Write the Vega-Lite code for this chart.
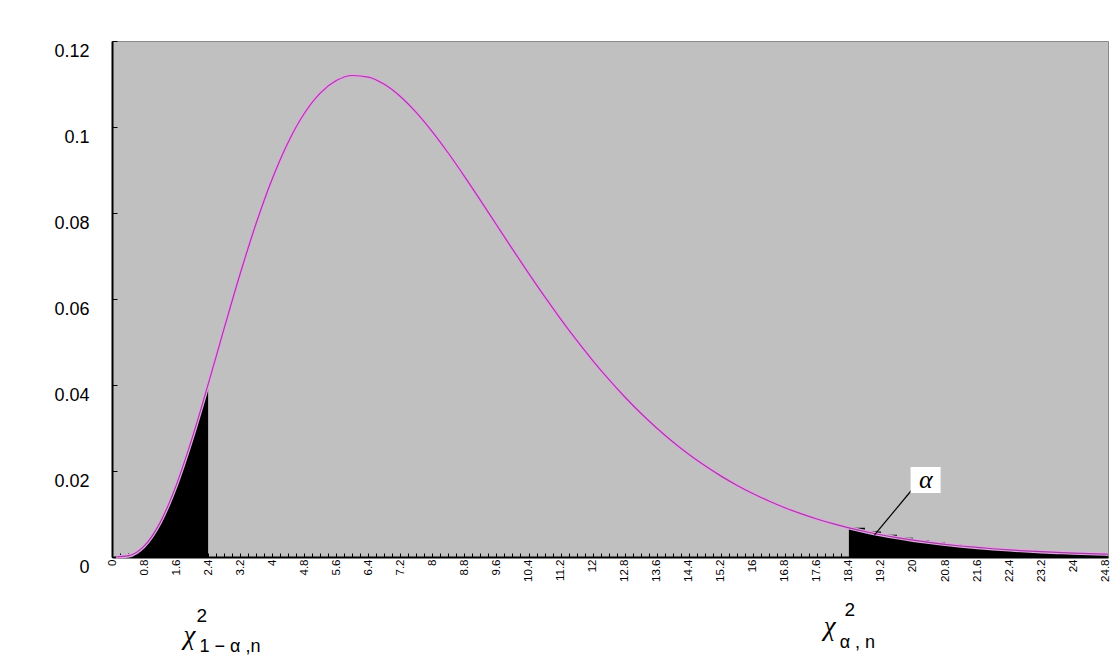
{
  "$schema": "https://vega.github.io/schema/vega-lite/v6.json",
  "width": 996,
  "height": 516,
  "autosize": {"type": "none"},
  "padding": {"left": 112, "top": 41, "right": 8, "bottom": 98},
  "background": "white",
  "config": {
    "view": {"fill": "#c0c0c0", "stroke": "#8a8a8a", "strokeWidth": 1},
    "font": "Liberation Sans"
  },
  "datasets": {
    "curve": [
      {"x": 0.1, "y": 0},
      {"x": 0.4, "y": 0.000242},
      {"x": 0.8, "y": 0.002518},
      {"x": 1.2, "y": 0.007999},
      {"x": 1.6, "y": 0.016607},
      {"x": 2.0, "y": 0.027632},
      {"x": 2.4, "y": 0.04013},
      {"x": 2.8, "y": 0.053152},
      {"x": 3.2, "y": 0.065865},
      {"x": 3.6, "y": 0.07761},
      {"x": 4.0, "y": 0.087912},
      {"x": 4.4, "y": 0.096472},
      {"x": 4.8, "y": 0.103141},
      {"x": 5.2, "y": 0.107892},
      {"x": 5.6, "y": 0.110792},
      {"x": 6.0, "y": 0.111974},
      {"x": 6.4, "y": 0.111615},
      {"x": 6.8, "y": 0.109916},
      {"x": 7.2, "y": 0.107094},
      {"x": 7.6, "y": 0.103351},
      {"x": 8.0, "y": 0.09889},
      {"x": 8.4, "y": 0.093892},
      {"x": 8.8, "y": 0.088534},
      {"x": 9.2, "y": 0.082948},
      {"x": 9.6, "y": 0.077268},
      {"x": 10.0, "y": 0.071594},
      {"x": 10.4, "y": 0.066012},
      {"x": 10.8, "y": 0.060591},
      {"x": 11.2, "y": 0.055382},
      {"x": 11.6, "y": 0.050423},
      {"x": 12.0, "y": 0.045742},
      {"x": 12.4, "y": 0.041356},
      {"x": 12.8, "y": 0.03727},
      {"x": 13.2, "y": 0.03349},
      {"x": 13.6, "y": 0.030009},
      {"x": 14.0, "y": 0.026818},
      {"x": 14.4, "y": 0.023907},
      {"x": 14.8, "y": 0.021263},
      {"x": 15.2, "y": 0.018868},
      {"x": 15.6, "y": 0.016709},
      {"x": 16.0, "y": 0.014766},
      {"x": 16.4, "y": 0.013025},
      {"x": 16.8, "y": 0.011469},
      {"x": 17.2, "y": 0.010081},
      {"x": 17.6, "y": 0.008846},
      {"x": 18.0, "y": 0.007751},
      {"x": 18.4, "y": 0.006781},
      {"x": 18.8, "y": 0.005924},
      {"x": 19.2, "y": 0.005168},
      {"x": 19.6, "y": 0.004503},
      {"x": 20.0, "y": 0.003918},
      {"x": 20.4, "y": 0.003405},
      {"x": 20.8, "y": 0.002956},
      {"x": 21.2, "y": 0.002563},
      {"x": 21.6, "y": 0.00222},
      {"x": 22.0, "y": 0.001921},
      {"x": 22.4, "y": 0.001661},
      {"x": 22.8, "y": 0.001434},
      {"x": 23.2, "y": 0.001237},
      {"x": 23.6, "y": 0.001067},
      {"x": 24.0, "y": 0.000919},
      {"x": 24.4, "y": 0.00079},
      {"x": 24.8, "y": 0.00068},
      {"x": 24.86, "y": 0.00066}
    ],
    "chi": [
      {"x": 1.936, "y": -0.01837, "t": "χ"},
      {"x": 17.92, "y": -0.01628, "t": "χ"}
    ],
    "sup": [
      {"x": 2.24, "y": -0.0138, "t": "2"},
      {"x": 18.42, "y": -0.0123, "t": "2"}
    ],
    "sub": [
      {"x": 2.185, "y": -0.0209, "t": "1 − α ,n"},
      {"x": 18.17, "y": -0.0201, "t": "α , n"}
    ],
    "alphabox": [
      {"x": 19.94, "x2": 20.69, "y": 0.02093, "y2": 0.01488}
    ],
    "alphaline": [
      {"x": 19.97, "y": 0.01558, "x2": 19.04, "y2": 0.00512}
    ],
    "alphalabel": [
      {"x": 20.32, "y": 0.01791, "t": "α"}
    ]
  },
  "layer": [
    {
      "data": {"name": "curve"},
      "transform": [{"filter": "datum.x <= 2.4"}],
      "mark": {"type": "area", "color": "black", "interpolate": "monotone"},
      "encoding": {
        "x": {
          "field": "x", "type": "quantitative",
          "scale": {"domain": [0, 24.87], "nice": false, "zero": false},
          "axis": {
            "title": null,
            "tickCount": 300,
            "values": [0, 0.2, 0.4, 0.6, 0.8, 1, 1.2, 1.4, 1.6, 1.8, 2, 2.2, 2.4, 2.6, 2.8, 3, 3.2, 3.4, 3.6, 3.8, 4, 4.2, 4.4, 4.6, 4.8, 5, 5.2, 5.4, 5.6, 5.8, 6, 6.2, 6.4, 6.6, 6.8, 7, 7.2, 7.4, 7.6, 7.8, 8, 8.2, 8.4, 8.6, 8.8, 9, 9.2, 9.4, 9.6, 9.8, 10, 10.2, 10.4, 10.6, 10.8, 11, 11.2, 11.4, 11.6, 11.8, 12, 12.2, 12.4, 12.6, 12.8, 13, 13.2, 13.4, 13.6, 13.8, 14, 14.2, 14.4, 14.6, 14.8, 15, 15.2, 15.4, 15.6, 15.8, 16, 16.2, 16.4, 16.6, 16.8, 17, 17.2, 17.4, 17.6, 17.8, 18, 18.2, 18.4, 18.6, 18.8, 19, 19.2, 19.4, 19.6, 19.8, 20, 20.2, 20.4, 20.6, 20.8, 21, 21.2, 21.4, 21.6, 21.8, 22, 22.2, 22.4, 22.6, 22.8, 23, 23.2, 23.4, 23.6, 23.8, 24, 24.2, 24.4, 24.6, 24.8],
            "labelExpr": "abs(datum.value / 0.8 - round(datum.value / 0.8)) < 0.01 ? format(round(datum.value * 10) / 10, '~g') : ''",
            "labelAngle": -90,
            "labelFontSize": 11.5,
            "labelFont": "Liberation Sans",
            "labelColor": "black",
            "labelPadding": 6,
            "labelOverlap": false,
            "labelSeparation": 0,
            "labelBound": false,
            "labelFlush": false,
            "tickSize": -4,
            "tickColor": "black",
            "tickWidth": 1,
            "domainColor": "black",
            "domainWidth": 2,
            "grid": false
          }
        },
        "y": {
          "field": "y", "type": "quantitative",
          "scale": {"domain": [0, 0.12], "nice": false},
          "axis": {
            "title": null,
            "values": [0, 0.02, 0.04, 0.06, 0.08, 0.1, 0.12],
            "labelExpr": "format(datum.value, '~g')",
            "labelFontSize": 18,
            "labelFont": "Liberation Sans",
            "labelColor": "black",
            "labelPadding": 28,
            "labelOffset": 10,
            "labelBound": false,
            "labelFlush": false,
            "labelOverlap": false,
            "tickSize": -5,
            "tickColor": "black",
            "domainColor": "black",
            "domainWidth": 2,
            "grid": false
          }
        }
      }
    },
    {
      "data": {"name": "curve"},
      "transform": [{"filter": "datum.x >= 18.4"}],
      "mark": {"type": "area", "color": "black", "interpolate": "step-after"},
      "encoding": {
        "x": {"field": "x", "type": "quantitative"},
        "y": {"field": "y", "type": "quantitative"}
      }
    },
    {
      "data": {"name": "curve"},
      "mark": {"type": "line", "color": "#e2a6e2", "strokeWidth": 3.5, "interpolate": "monotone"},
      "encoding": {
        "x": {"field": "x", "type": "quantitative"},
        "y": {"field": "y", "type": "quantitative"}
      }
    },
    {
      "data": {"name": "curve"},
      "mark": {"type": "line", "color": "#a33ca3", "strokeWidth": 1.2, "interpolate": "monotone"},
      "encoding": {
        "x": {"field": "x", "type": "quantitative"},
        "y": {"field": "y", "type": "quantitative"}
      }
    },
    {
      "data": {"name": "alphaline"},
      "mark": {"type": "rule", "color": "black", "strokeWidth": 1.2},
      "encoding": {
        "x": {"field": "x", "type": "quantitative"},
        "y": {"field": "y", "type": "quantitative"},
        "x2": {"field": "x2"},
        "y2": {"field": "y2"}
      }
    },
    {
      "data": {"name": "alphabox"},
      "mark": {"type": "rect", "color": "white"},
      "encoding": {
        "x": {"field": "x", "type": "quantitative"},
        "x2": {"field": "x2"},
        "y": {"field": "y", "type": "quantitative"},
        "y2": {"field": "y2"}
      }
    },
    {
      "data": {"name": "alphalabel"},
      "mark": {"type": "text", "font": "Liberation Serif", "fontStyle": "italic", "fontSize": 26, "color": "black", "align": "center", "baseline": "middle"},
      "encoding": {
        "x": {"field": "x", "type": "quantitative"},
        "y": {"field": "y", "type": "quantitative"},
        "text": {"field": "t"}
      }
    },
    {
      "data": {"name": "chi"},
      "mark": {"type": "text", "font": "Liberation Serif", "fontStyle": "italic", "fontSize": 27, "color": "black", "align": "center", "baseline": "middle"},
      "encoding": {
        "x": {"field": "x", "type": "quantitative"},
        "y": {"field": "y", "type": "quantitative"},
        "text": {"field": "t"}
      }
    },
    {
      "data": {"name": "sup"},
      "mark": {"type": "text", "font": "Liberation Sans", "fontSize": 19, "color": "black", "align": "center", "baseline": "middle"},
      "encoding": {
        "x": {"field": "x", "type": "quantitative"},
        "y": {"field": "y", "type": "quantitative"},
        "text": {"field": "t"}
      }
    },
    {
      "data": {"name": "sub"},
      "mark": {"type": "text", "font": "Liberation Sans", "fontSize": 18, "color": "black", "align": "left", "baseline": "middle"},
      "encoding": {
        "x": {"field": "x", "type": "quantitative"},
        "y": {"field": "y", "type": "quantitative"},
        "text": {"field": "t"}
      }
    }
  ]
}
